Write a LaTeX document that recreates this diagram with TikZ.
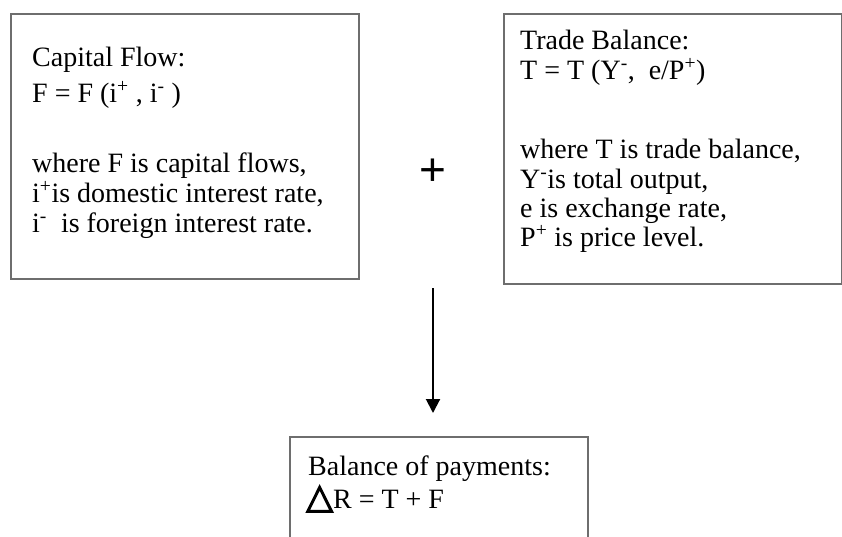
\documentclass[tikz,border=0pt]{standalone}
\usepackage{fontspec}
\setmainfont{Liberation Serif}
\newfontfamily\symfont[FakeBold=3.5]{DejaVu Sans}
\newfontfamily\plusfont{Liberation Sans}
\usetikzlibrary{arrows.meta}
\definecolor{boxgray}{RGB}{110,110,110}
\begin{document}
\begin{tikzpicture}[x=1pt,y=-1pt,
  panel/.style={draw=boxgray, line width=1.6pt, inner sep=0pt, anchor=north west},
  ln/.style={anchor=base west, inner sep=0pt, font=\fontsize{28}{34}\selectfont},
  conn/.style={line width=2pt, -{Triangle[length=14pt,width=14pt]}}]
\useasboundingbox (0,0) rectangle (842,536);
\clip (0,0) rectangle (842,536);
% boxes
\node[panel, minimum width=348pt, minimum height=265pt] (capbox) at (10,13) {};
\node[panel, minimum width=338pt, minimum height=270pt] (tradebox) at (503,13) {};
\node[panel, minimum width=298pt, minimum height=150pt] (bopbox) at (289,436) {};
% capital flow text
\node[ln] (c1) at (32,66) {Capital Flow:};
\node[ln] (c2) at (32,102) {F = F (i\textsuperscript{+} , i\textsuperscript{-} )};
\node[ln] (c3) at (32,172) {where F is capital flows,};
\node[ln] (c4) at (32,202) {i\textsuperscript{+}is domestic interest rate,};
\node[ln] (c5) at (32,232) {i\textsuperscript{-}\ \ is foreign interest rate.};
% trade balance text
\node[ln] (t1) at (520,49) {Trade Balance:};
\node[ln] (t2) at (520,79) {T = T (Y\textsuperscript{-},\ \ e/P\textsuperscript{+})};
\node[ln] (t3) at (520,158) {where T is trade balance,};
\node[ln] (t4) at (520,188) {Y\textsuperscript{-}is total output,};
\node[ln] (t5) at (520,217) {e is exchange rate,};
\node[ln] (t6) at (520,246) {P\textsuperscript{+} is price level.};
% plus
\node[inner sep=0pt, font=\plusfont\fontsize{46}{46}\selectfont] (plus) at (433,172) {+};
% balance of payments text
\node[ln] (b1) at (308,475) {Balance of payments:};
\node[ln] (b2) at (306,508) {\smash{\symfont\fontsize{35}{35}\selectfont △}R = T + F};
% arrow
\coordinate (astart) at (433,288);
\coordinate (aend) at (433,413);
\draw[conn] (astart) -- (aend);
\end{tikzpicture}
\end{document}
